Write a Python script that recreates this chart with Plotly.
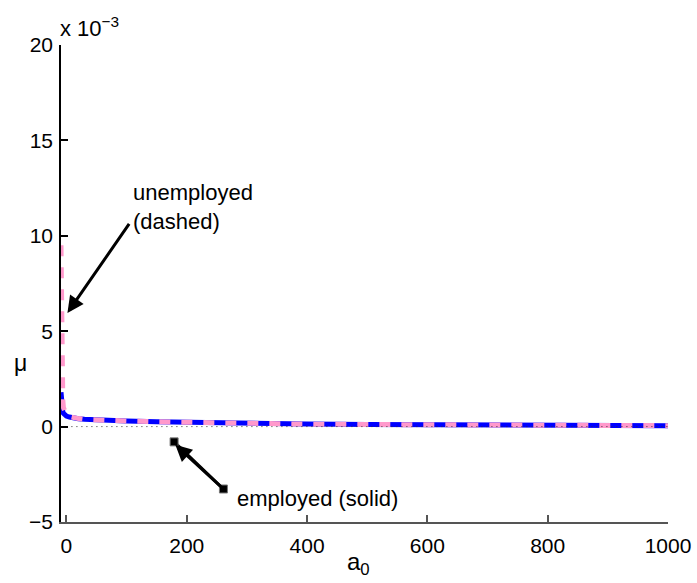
import plotly.graph_objects as go

# a0 grid and policy multipliers (in units of 1e-3)
a0 = [-9, -8.5, -8, -7.5, -7, -6, -5, -3, 0, 5, 10, 20, 30, 50, 75, 100, 150, 200, 300, 400, 500, 600, 700, 800, 900, 1000]
mu_employed = [1.8, 1.45, 1.2, 1.0, 0.9, 0.78, 0.7, 0.62, 0.55, 0.5, 0.46, 0.41, 0.38, 0.34, 0.31, 0.29, 0.25, 0.22, 0.17, 0.13, 0.11, 0.09, 0.075, 0.065, 0.055, 0.05]
mu_unemployed = [9.5, 7.0, 5.0, 3.3, 2.2, 1.4, 1.0, 0.75, 0.6, 0.52, 0.47, 0.42, 0.38, 0.34, 0.31, 0.29, 0.25, 0.22, 0.17, 0.13, 0.11, 0.09, 0.075, 0.065, 0.055, 0.05]

zero_x = [0, 1000]
zero_y = [0, 0]

x_ticks = [0, 200, 400, 600, 800, 1000]
y_ticks = [-5, 0, 5, 10, 15, 20]
y_tick_labels = ["\u22125", "0", "5", "10", "15", "20"]

# annotation anchor points (data coords)
unemp_arrow_head = (1.7, 5.96)
unemp_arrow_tail = (106, 10.7)
unemp_text_pos = (108, 11.5)
emp_marker_x = [179, 261]
emp_marker_y = [-0.8, -3.27]
emp_text_pos = (281, -3.79)

FONT = "Liberation Sans, Arial, Helvetica, sans-serif"

fig = go.Figure()
fig.add_trace(go.Scatter(x=a0, y=mu_employed, mode="lines",
                         line=dict(color="#0000FF", width=5), showlegend=False))
fig.add_trace(go.Scatter(x=a0, y=mu_unemployed, mode="lines",
                         line=dict(color="#FF99CC", width=5, dash="11px,11px"), showlegend=False))
fig.add_trace(go.Scatter(x=zero_x, y=zero_y, mode="lines",
                         line=dict(color="#333333", width=1, dash="1px,4px"), showlegend=False))
fig.add_trace(go.Scatter(x=emp_marker_x, y=emp_marker_y, mode="lines",
                         line=dict(color="black", width=3), showlegend=False))
fig.add_trace(go.Scatter(x=emp_marker_x, y=emp_marker_y, mode="markers",
                         marker=dict(symbol="square", size=8, color="black",
                                     line=dict(color="#777777", width=1)),
                         showlegend=False))

annotations = [
    dict(x=unemp_arrow_head[0], y=unemp_arrow_head[1], ax=unemp_arrow_tail[0], ay=unemp_arrow_tail[1],
         xref="x", yref="y", axref="x", ayref="y", text="", showarrow=True,
         arrowhead=2, arrowsize=1.1, arrowwidth=3, arrowcolor="black"),
    dict(x=emp_marker_x[0] + 2, y=emp_marker_y[0] - 0.15, ax=emp_marker_x[1], ay=emp_marker_y[1],
         xref="x", yref="y", axref="x", ayref="y", text="", showarrow=True,
         arrowhead=2, arrowsize=1.1, arrowwidth=3, arrowcolor="black"),
    dict(x=unemp_text_pos[0], y=unemp_text_pos[1], xref="x", yref="y", text="unemployed<br>(dashed)",
         showarrow=False, xanchor="left", yanchor="middle", align="left",
         font=dict(family=FONT, size=22, color="black")),
    dict(x=emp_text_pos[0], y=emp_text_pos[1], xref="x", yref="y", text="employed (solid)",
         showarrow=False, xanchor="left", yanchor="middle", align="left",
         font=dict(family=FONT, size=22, color="black")),
    dict(x=0, y=1, xref="paper", yref="paper", text="x 10<sup>\u22123</sup>",
         showarrow=False, xanchor="left", yanchor="bottom", xshift=-3, yshift=2,
         font=dict(family=FONT, size=22, color="black")),
    dict(x=-0.066, y=(426.7 - 268) / 477.0, xref="paper", yref="paper", text="\u03bc", showarrow=False,
         xanchor="center", yanchor="middle",
         font=dict(family=FONT, size=23, color="black")),
    dict(x=0.49, y=0, xref="paper", yref="paper", text="a<sub>0</sub>", showarrow=False,
         xanchor="center", yanchor="top", yshift=-24,
         font=dict(family=FONT, size=24, color="black")),
]

fig.update_layout(
    width=697, height=583,
    margin=dict(l=61, r=29, t=45, b=61),
    paper_bgcolor="white", plot_bgcolor="white",
    font=dict(family=FONT, size=21, color="black"),
    annotations=annotations,
    showlegend=False,
)
fig.update_xaxes(range=[-9, 1000], tickvals=x_ticks, ticktext=[str(v) for v in x_ticks],
                 automargin=False, ticklabelstandoff=4,
                 showgrid=False, zeroline=False, showline=True, linecolor="#555555", linewidth=1.5,
                 ticks="inside", ticklen=7, tickcolor="#555555", tickwidth=1.5,
                 tickfont=dict(family=FONT, size=21, color="black"))
fig.update_yaxes(range=[-5, 20], tickvals=y_ticks, ticktext=y_tick_labels,
                 automargin=False, ticklabelstandoff=2,
                 showgrid=False, zeroline=False, showline=True, linecolor="black", linewidth=1.5,
                 ticks="inside", ticklen=7, tickcolor="black", tickwidth=1.5,
                 tickfont=dict(family=FONT, size=21, color="black"))

fig.write_html("out.html", config={"displayModeBar": False},
               post_script="document.body.style.margin='0';document.body.style.overflow='hidden';")
